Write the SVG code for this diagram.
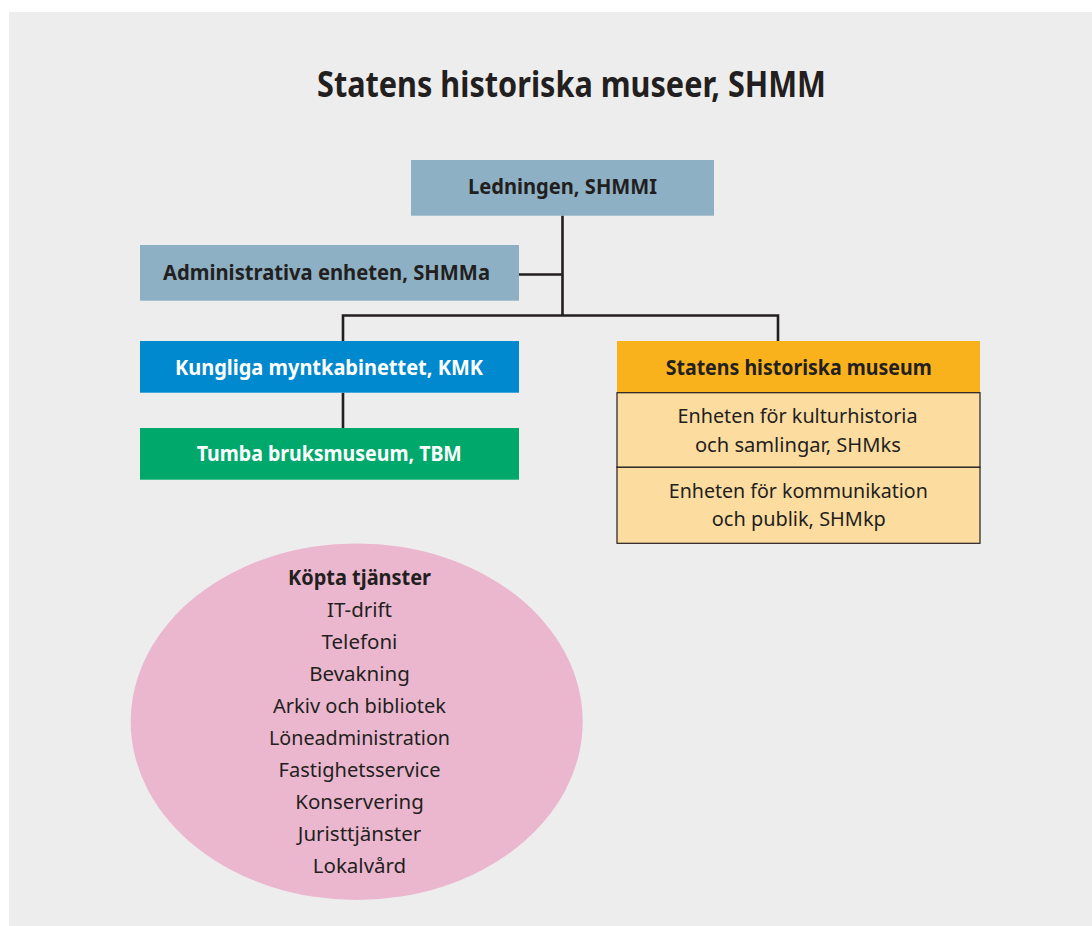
<svg xmlns="http://www.w3.org/2000/svg" width="1092" height="926" viewBox="0 0 1092 926">
<style>
.t{font-family:"Noto Sans","Open Sans","Liberation Sans",sans-serif;fill:#231f20;text-anchor:middle}
.b{font-weight:bold;font-size:21px}
.r{font-size:20.5px}
.w{fill:#ffffff}
.ln{stroke:#231f20;stroke-width:2.6;fill:none}
.sub{fill:#fddca0;stroke:#231f20;stroke-width:1.2}
</style>
<rect x="0" y="0" width="1092" height="926" fill="#ffffff"/>
<rect x="9" y="12" width="1083" height="914" fill="#ededed"/>
<text class="t" x="571.5" y="97" font-size="36" font-weight="bold" textLength="509" lengthAdjust="spacingAndGlyphs">Statens historiska museer, SHMM</text>
<g id="connectors">
<path class="ln" d="M562.5 215.5V315.5M519 274.5H562.5M343 315.5H778M343 314.2V341M778 314.2V341M343 392.7V428"/>
</g>
<g id="ledningen">
<rect x="411" y="160" width="303" height="55.7" fill="#8db0c4"/>
<text class="t b" x="562.5" y="194" textLength="189" lengthAdjust="spacingAndGlyphs">Ledningen, SHMMI</text>
</g>
<g id="admin">
<rect x="140" y="245" width="379" height="55.7" fill="#8db0c4"/>
<text class="t b" x="326.5" y="280" textLength="327" lengthAdjust="spacingAndGlyphs">Administrativa enheten, SHMMa</text>
</g>
<g id="kmk">
<rect x="140" y="341" width="379" height="51.7" fill="#0089cf"/>
<text class="t b w" x="329" y="375" textLength="308" lengthAdjust="spacingAndGlyphs">Kungliga myntkabinettet, KMK</text>
</g>
<g id="tbm">
<rect x="140" y="428" width="379" height="51.7" fill="#00a96b"/>
<text class="t b w" x="329.3" y="461" textLength="265" lengthAdjust="spacingAndGlyphs">Tumba bruksmuseum, TBM</text>
</g>
<g id="shm">
<rect x="617" y="341" width="363" height="51.7" fill="#f9b21b"/>
<text class="t b" x="798.7" y="375" textLength="266" lengthAdjust="spacingAndGlyphs">Statens historiska museum</text>
</g>
<g id="shmks">
<rect class="sub" x="617" y="392.7" width="363" height="74.6"/>
<text class="t r" x="797.5" y="422.7" textLength="240" lengthAdjust="spacingAndGlyphs">Enheten för kulturhistoria</text>
<text class="t r" x="797.9" y="451.7" textLength="206" lengthAdjust="spacingAndGlyphs">och samlingar, SHMks</text>
</g>
<g id="shmkp">
<rect class="sub" x="617" y="467.3" width="363" height="76"/>
<text class="t r" x="798.3" y="498.3" textLength="259" lengthAdjust="spacingAndGlyphs">Enheten för kommunikation</text>
<text class="t r" x="798.8" y="525.7" textLength="174" lengthAdjust="spacingAndGlyphs">och publik, SHMkp</text>
</g>
<g id="kopta">
<ellipse cx="356.7" cy="721.7" rx="226" ry="178.3" fill="#ebb7cf"/>
<text class="t b" x="359.5" y="585" textLength="143" lengthAdjust="spacingAndGlyphs">Köpta tjänster</text>
<text class="t r" x="359.5" y="617">IT-drift</text>
<text class="t r" x="359.5" y="649">Telefoni</text>
<text class="t r" x="359.5" y="681">Bevakning</text>
<text class="t r" x="359.5" y="713" textLength="173" lengthAdjust="spacingAndGlyphs">Arkiv och bibliotek</text>
<text class="t r" x="359.5" y="745" textLength="181" lengthAdjust="spacingAndGlyphs">Löneadministration</text>
<text class="t r" x="359.5" y="777" textLength="162" lengthAdjust="spacingAndGlyphs">Fastighetsservice</text>
<text class="t r" x="359.5" y="809">Konservering</text>
<text class="t r" x="359.5" y="841">Juristtjänster</text>
<text class="t r" x="359.5" y="873">Lokalvård</text>
</g>
</svg>
